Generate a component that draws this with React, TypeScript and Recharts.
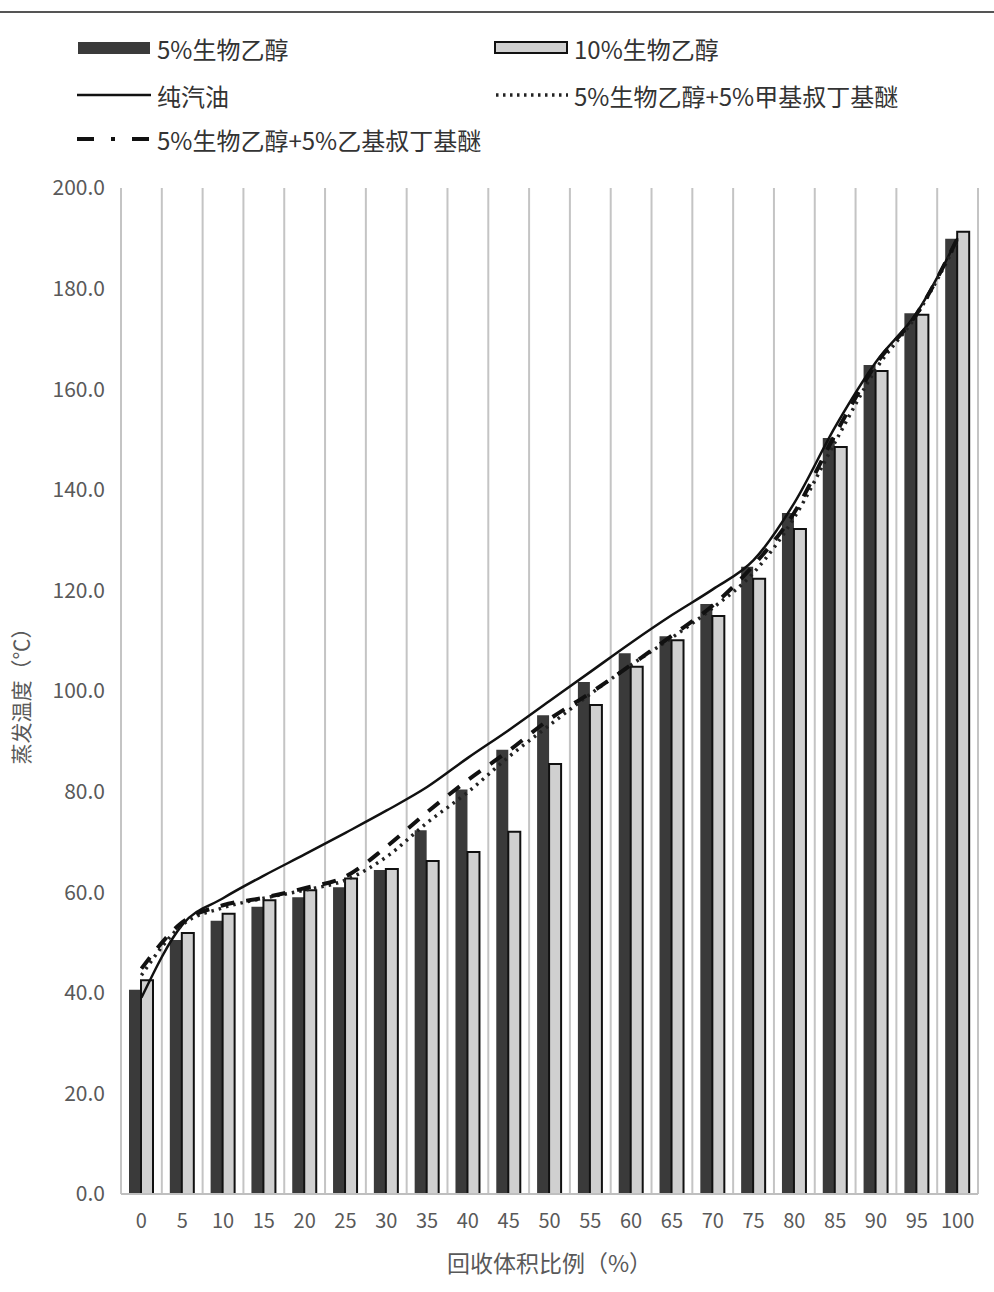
import { Bar, CartesianGrid, ComposedChart, Line, XAxis, YAxis } from "recharts";

const categories = [0, 5, 10, 15, 20, 25, 30, 35, 40, 45, 50, 55, 60, 65, 70, 75, 80, 85, 90, 95, 100];

const ethanol5 = [40.6, 50.5, 54.3, 57.1, 59.0, 61.0, 64.4, 72.3, 80.4, 88.3, 95.2, 101.8, 107.5, 110.9, 117.3, 124.7, 135.4, 150.3, 164.8, 175.1, 189.9];
const ethanol10 = [42.5, 51.9, 55.7, 58.4, 60.4, 62.7, 64.6, 66.2, 68.0, 72.0, 85.5, 97.2, 104.8, 110.1, 114.9, 122.3, 132.2, 148.5, 163.6, 174.8, 191.3];
const gasoline = [39.0, 53.5, 58.8, 63.3, 67.5, 71.8, 76.2, 80.9, 86.7, 92.2, 98.0, 103.8, 109.6, 115.1, 120.2, 126.0, 137.4, 152.5, 165.4, 175.2, 190.0];
const mtbe = [43.5, 53.5, 56.9, 58.8, 60.4, 62.4, 67.0, 73.8, 79.9, 86.9, 93.2, 99.4, 105.2, 110.6, 116.5, 123.5, 134.5, 149.5, 164.0, 174.8, 189.5];
const etbe = [44.8, 54.0, 57.4, 58.9, 60.8, 63.1, 69.0, 75.9, 82.3, 88.1, 94.4, 99.6, 105.2, 111.0, 117.0, 125.0, 135.5, 151.0, 165.0, 175.0, 190.0];

const yTicks = [0, 20, 40, 60, 80, 100, 120, 140, 160, 180, 200];

const data = categories.map((x, i) => ({
  x,
  e5: ethanol5[i],
  e10: ethanol10[i],
  gas: gasoline[i],
  mtbe: mtbe[i],
  etbe: etbe[i],
}));

const font = "'Noto Sans CJK SC', 'Noto Sans', sans-serif";
const textColor = "#333";
const tickColor = "#595959";

function Swatch({ kind }: { kind: string }) {
  return (
    <svg width={74} height={16} style={{ display: "block" }}>
      {kind === "dark" && <rect x={1} y={2} width={72} height={12} fill="#3a3a3a" />}
      {kind === "light" && <rect x={1} y={2} width={72} height={11} fill="#d0d0d0" stroke="#111" strokeWidth={2} />}
      {kind === "solid" && <line x1={0} y1={8} x2={74} y2={8} stroke="#111" strokeWidth={2.5} />}
      {kind === "dotted" && <line x1={2} y1={8} x2={74} y2={8} stroke="#222" strokeWidth={3.5} strokeDasharray="2.5 4.5" />}
      {kind === "dashed" && <line x1={0} y1={8} x2={74} y2={8} stroke="#111" strokeWidth={4} strokeDasharray="17 17 4 17" />}
    </svg>
  );
}

function LegendItem({ kind, label, left, top }: { kind: string; label: string; left: number; top: number }) {
  return (
    <div style={{ position: "absolute", left, top, display: "flex", alignItems: "center", gap: 6, height: 30 }}>
      <Swatch kind={kind} />
      <span style={{ fontFamily: font, fontSize: 24, color: textColor, whiteSpace: "nowrap" }}>{label}</span>
    </div>
  );
}

export default function App() {
  return (
    <div style={{ position: "absolute", left: 0, top: 0, width: 994, height: 1292, background: "#fff" }}>
      <div style={{ position: "absolute", left: 0, top: 11, width: 994, height: 2, background: "#555" }} />
      <LegendItem kind="dark" label="5%生物乙醇" left={77} top={33} />
      <LegendItem kind="light" label="10%生物乙醇" left={494} top={33} />
      <LegendItem kind="solid" label="纯汽油" left={77} top={80} />
      <LegendItem kind="dotted" label="5%生物乙醇+5%甲基叔丁基醚" left={494} top={80} />
      <LegendItem kind="dashed" label="5%生物乙醇+5%乙基叔丁基醚" left={77} top={124} />
      <ComposedChart
        width={994}
        height={1292}
        data={data}
        margin={{ top: 188, right: 16, left: 0, bottom: 38 }}
        barGap={0}
        style={{ position: "absolute", left: 0, top: 0 }}
      >
        <CartesianGrid
          horizontal={false}
          stroke="#c4c4c4"
          strokeWidth={2}
          verticalCoordinatesGenerator={({ offset }: any) =>
            Array.from({ length: categories.length + 1 }, (_, i) => offset.left + (i * offset.width) / categories.length)
          }
        />
        <XAxis
          dataKey="x"
          height={60}
          axisLine={{ stroke: "#bfbfbf", strokeWidth: 2 }}
          tickLine={false}
          tick={{ fill: tickColor, fontSize: 20, fontFamily: font, dy: 12 }}
          interval={0}
          label={{ value: "回收体积比例（%）", position: "insideBottom", offset: -18, fill: tickColor, fontSize: 23, fontFamily: font }}
        />
        <YAxis
          width={121}
          domain={[0, 200]}
          ticks={yTicks}
          axisLine={false}
          tickLine={false}
          tickFormatter={(v: number) => v.toFixed(1)}
          tick={{ fill: tickColor, fontSize: 21, fontFamily: font, dx: -8 }}
        />
        <Bar dataKey="e5" name="5%生物乙醇" fill="#3a3a3a" barSize={12} isAnimationActive={false} />
        <Bar dataKey="e10" name="10%生物乙醇" fill="#d0d0d0" stroke="#111" strokeWidth={2} barSize={12} isAnimationActive={false} />
        <Line type="monotone" dataKey="gas" name="纯汽油" stroke="#111" strokeWidth={2.5} dot={false} isAnimationActive={false} />
        <Line type="monotone" dataKey="mtbe" name="5%生物乙醇+5%甲基叔丁基醚" stroke="#222" strokeWidth={3.5} strokeDasharray="2.5 5" dot={false} isAnimationActive={false} />
        <Line type="monotone" dataKey="etbe" name="5%生物乙醇+5%乙基叔丁基醚" stroke="#111" strokeWidth={4} strokeDasharray="14 12" dot={false} isAnimationActive={false} />
      </ComposedChart>
      <div
        style={{
          position: "absolute",
          left: 20,
          top: 691,
          transform: "translate(-50%, -50%) rotate(-90deg)",
          fontFamily: font,
          fontSize: 21,
          color: tickColor,
          whiteSpace: "nowrap",
          lineHeight: 1,
        }}
      >
        蒸发温度（℃）
      </div>
    </div>
  );
}
